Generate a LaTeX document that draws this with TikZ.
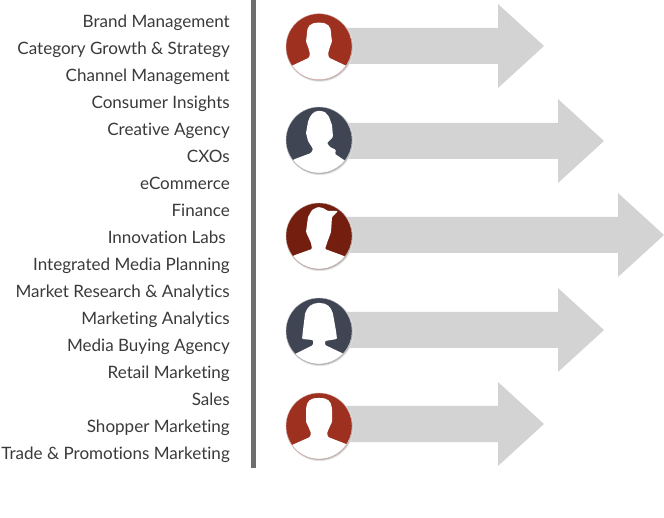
\documentclass[tikz,border=0pt]{standalone}
\usepackage{fontspec}
\setmainfont{Lato}[Ligatures=NoCommon]
\definecolor{brickColor}{RGB}{158,48,32}
\definecolor{rustColor}{RGB}{115,30,15}
\definecolor{slateColor}{RGB}{64,69,84}
\definecolor{arrowColor}{RGB}{211,211,211}
\definecolor{barColor}{RGB}{110,110,113}
\definecolor{textColor}{RGB}{58,58,58}
\tikzset{
  deptlabel/.style={anchor=base east, inner sep=0pt, text=textColor, font=\fontsize{17.05}{20}\selectfont},
  headshape/.style={fill=white, rounded corners=1pt}
}
% flecha gris: y central, x de la cabeza
\newcommand{\grayarrow}[2]{
  \fill[arrowColor] (340,#1-18) -- (#2,#1-18) -- (#2,#1-42) -- (#2+46,#1) -- (#2,#1+42) -- (#2,#1+18) -- (340,#1+18) -- cycle;
}
% disco con sombra, recorte y silueta
\newcommand{\avatar}[3]{
  \fill[black!12] (319.8,#1+1.2) circle (33.8);
  \fill[black!28] (319.5,#1+0.8) circle (33.2);
  \begin{scope}
    \clip (319,#1) circle (33);
    \fill[#2] (319,#1) circle (33);
    \begin{scope}[shift={(319,#1)}]
      \fill[headshape] #3;
    \end{scope}
  \end{scope}
  \draw[#2!35, line width=0.4pt] (319,#1) circle (33);
}
\begin{document}
\begin{tikzpicture}[x=1pt, y=-1pt]
  \useasboundingbox (0,0) rectangle (664,518);

  % 1. LISTA DE AREAS
  \foreach \i/\name in {0/Brand Management, 1/Category Growth \& Strategy, 2/Channel Management,
    3/Consumer Insights, 4/Creative Agency, 5/CXOs, 6/eCommerce, 7/Finance,
    9/Integrated Media Planning, 10/Market Research \& Analytics, 11/Marketing Analytics,
    12/Media Buying Agency, 13/Retail Marketing, 14/Sales, 15/Shopper Marketing,
    16/Trade \& Promotions Marketing} {
    \node[deptlabel] (dept\i) at (230,27.6+27*\i) {\name};
  }
  \node[deptlabel] (dept8) at (226,243.6) {Innovation Labs};

  % 2. BARRA VERTICAL
  \fill[barColor] (251,0) rectangle (255.5,468);

  % 3. FLECHAS
  \grayarrow{46}{498}
  \grayarrow{141}{558}
  \grayarrow{235}{618}
  \grayarrow{330}{558}
  \grayarrow{424}{498}

  % 4. AVATARES
  \avatar{46.7}{brickColor}{(-40,45) -- (-40,30) -- (-27,19) -- (-10,11) -- (-9,7) -- (-11,0) -- (-13,-5) -- (-12,-13)
    .. controls (-12,-20) and (-9,-24) .. (0,-24) .. controls (9,-24) and (12,-20) .. (12,-13)
    -- (13,-5) -- (11,0) -- (9,7) -- (10,11) -- (27,19) -- (40,30) -- (40,45) -- cycle}
  \avatar{140}{slateColor}{(-40,45) -- (-40,28) -- (-24,19) -- (-8,13) -- (-6,9) -- (-11,1) -- (-13,-7) -- (-11,-18)
    .. controls (-9,-25) and (-5,-29) .. (0,-29) .. controls (5,-29) and (8,-27) .. (10,-23)
    -- (13,-15) -- (14,-3) -- (8,3) -- (11,7) -- (17,10) -- (16,14) -- (25,20) -- (40,30) -- (40,45) -- cycle}
  \avatar{236}{rustColor}{(-40,45) -- (-40,28) -- (-24,19) -- (-7,13) -- (-8,7) -- (-13,-4) -- (-11,-19) -- (-7,-26)
    -- (-1,-29) -- (4,-28) -- (9,-25) -- (19,-25) -- (13,-19) -- (12,-4) -- (8,7) -- (6,13) -- (25,20)
    -- (40,30) -- (40,45) -- cycle}
  \avatar{331}{slateColor}{(-40,45) -- (-40,33) -- (-24,23) -- (-6,14) -- (-6,9) -- (-17,8) -- (-16,-1) -- (-14,-17)
    .. controls (-12,-24) and (-7,-28) .. (0,-28) .. controls (8,-28) and (12,-24) .. (14,-17)
    -- (17,0) -- (18,8) -- (6,10) -- (6,14) -- (25,23) -- (40,33) -- (40,45) -- cycle}
  \avatar{426}{brickColor}{(-40,45) -- (-40,30) -- (-27,19) -- (-9,11) -- (-8,7) -- (-11,0) -- (-13,-4) -- (-13,-17)
    .. controls (-12,-25) and (-9,-28) .. (0,-28) .. controls (9,-28) and (12,-25) .. (13,-17)
    -- (13,-4) -- (11,0) -- (8,7) -- (9,11) -- (27,18) -- (40,30) -- (40,45) -- cycle}
\end{tikzpicture}
\end{document}
